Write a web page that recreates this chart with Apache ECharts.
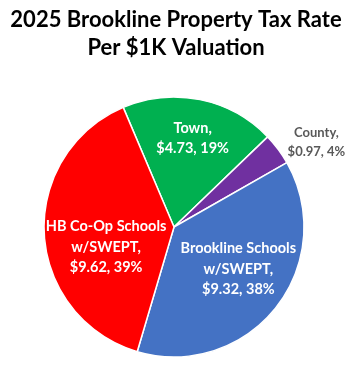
<!DOCTYPE html>
<html>
<head>
<meta charset="utf-8">
<script src="https://cdn.jsdelivr.net/npm/echarts@6/dist/echarts.min.js"></script>
<style>
html,body{margin:0;padding:0;background:#fff;}
#chart{width:352px;height:366px;}
</style>
</head>
<body>
<div id="chart"></div>
<script>
var categories = ['Town', 'County', 'Brookline Schools\nw/SWEPT', 'HB Co-Op Schools\nw/SWEPT'];
var values = [4.73, 0.97, 9.32, 9.62];
var colors = ['#00B050', '#7030A0', '#4472C4', '#FF0000'];
var labelColors = ['#ffffff', '#595959', '#ffffff', '#ffffff'];
var labelSizes = [14.5, 13, 14.5, 14.5];
var labelOffsets = [[5, -22], [88, -44], [11, 0], [0, 16]];

var data = categories.map(function (name, i) {
  return {
    name: name,
    value: values[i],
    itemStyle: { color: colors[i] },
    label: {
      color: labelColors[i],
      fontSize: labelSizes[i],
      lineHeight: labelSizes[i] + 6,
      offset: labelOffsets[i]
    }
  };
});

var chart = echarts.init(document.getElementById('chart'), null, { renderer: 'canvas' });
chart.setOption({
  animation: false,
  backgroundColor: '#ffffff',
  title: {
    text: '2025 Brookline Property Tax Rate\nPer $1K Valuation',
    left: 'center',
    top: 1,
    textStyle: {
      fontFamily: 'Lato',
      fontWeight: 'bold',
      fontSize: 22,
      lineHeight: 28,
      color: '#000000'
    }
  },
  series: [{
    type: 'pie',
    center: [174, 227],
    radius: 130,
    startAngle: 113,
    clockwise: true,
    percentPrecision: 0,
    avoidLabelOverlap: false,
    emphasis: { disabled: true },
    itemStyle: { borderColor: '#ffffff', borderWidth: 1.5 },
    label: {
      show: true,
      position: 'inside',
      fontFamily: 'Lato',
      fontWeight: 'bold',
      align: 'center',
      formatter: function (p) {
        return p.name + ',\n$' + p.value.toFixed(2) + ', ' + p.percent + '%';
      }
    },
    labelLine: { show: false },
    data: data
  }]
});
</script>
</body>
</html>
